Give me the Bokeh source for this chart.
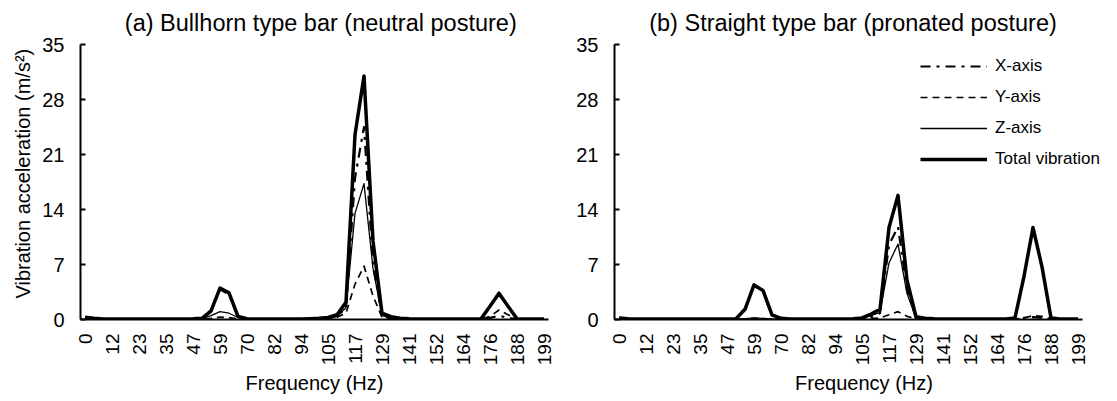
import math
from bokeh.plotting import figure
from bokeh.models import Range1d, FixedTicker, Label, Legend, LegendItem, Title
from bokeh.layouts import row
from bokeh.embed import file_html
from bokeh.resources import INLINE

# Frequency bins (3.906 Hz each); labels shown on every third bin
bins = list(range(52))
tick_bins = [0, 3, 6, 9, 12, 15, 18, 21, 24, 27, 30, 33, 36, 39, 42, 45, 48, 51]
tick_labels = ["0", "12", "23", "35", "47", "59", "70", "82", "94", "105",
               "117", "129", "141", "152", "164", "176", "188", "199"]
y_ticks = [0, 7, 14, 21, 28, 35]

# (a) Bullhorn type bar (neutral posture)
x_a = [0.15, 0.08, 0.03, 0.03, 0.03, 0.03, 0.03, 0.03, 0.03, 0.03,
       0.03, 0.03, 0.05, 0.12, 1.00, 3.85, 3.20, 0.30, 0.06, 0.03,
       0.03, 0.03, 0.03, 0.03, 0.03, 0.06, 0.10, 0.15, 0.40, 1.50,
       18.0, 24.5, 7.00, 0.50, 0.20, 0.08, 0.05, 0.03, 0.03, 0.03,
       0.03, 0.03, 0.03, 0.03, 0.03, 0.20, 0.50, 0.20, 0.05, 0.03,
       0.03, 0.03]
y_a = [0.12, 0.06, 0.03, 0.03, 0.03, 0.03, 0.03, 0.03, 0.03, 0.03,
       0.03, 0.03, 0.03, 0.05, 0.15, 0.30, 0.25, 0.08, 0.03, 0.03,
       0.03, 0.03, 0.03, 0.03, 0.03, 0.03, 0.05, 0.10, 0.30, 0.80,
       4.50, 6.80, 3.00, 0.30, 0.10, 0.05, 0.03, 0.03, 0.03, 0.03,
       0.03, 0.03, 0.03, 0.03, 0.05, 0.40, 1.20, 0.60, 0.05, 0.03,
       0.03, 0.03]
z_a = [0.20, 0.10, 0.04, 0.04, 0.04, 0.04, 0.04, 0.04, 0.04, 0.04,
       0.04, 0.04, 0.05, 0.10, 0.50, 1.00, 0.80, 0.25, 0.05, 0.04,
       0.04, 0.04, 0.04, 0.04, 0.04, 0.06, 0.10, 0.15, 0.40, 1.50,
       13.5, 17.3, 6.50, 0.50, 0.20, 0.08, 0.05, 0.04, 0.04, 0.04,
       0.04, 0.04, 0.04, 0.04, 0.05, 1.60, 3.10, 1.60, 0.08, 0.04,
       0.04, 0.04]
total_a = [0.30, 0.15, 0.05, 0.05, 0.05, 0.05, 0.05, 0.05, 0.05, 0.05,
           0.05, 0.05, 0.08, 0.15, 1.10, 4.00, 3.40, 0.40, 0.10, 0.05,
           0.05, 0.05, 0.05, 0.05, 0.05, 0.10, 0.15, 0.25, 0.60, 2.20,
           23.5, 31.0, 10.0, 0.80, 0.35, 0.15, 0.08, 0.05, 0.05, 0.05,
           0.05, 0.05, 0.05, 0.05, 0.08, 1.70, 3.35, 1.70, 0.10, 0.05,
           0.05, 0.05]

# (b) Straight type bar (pronated posture)
x_b = [0.10, 0.05, 0.03, 0.03, 0.03, 0.03, 0.03, 0.03, 0.03, 0.03,
       0.03, 0.03, 0.03, 0.08, 1.20, 4.30, 3.60, 0.50, 0.10, 0.03,
       0.03, 0.03, 0.03, 0.03, 0.03, 0.03, 0.05, 0.10, 0.30, 0.80,
       9.50, 11.8, 3.80, 0.20, 0.08, 0.05, 0.03, 0.03, 0.03, 0.03,
       0.03, 0.03, 0.03, 0.03, 0.05, 0.20, 0.30, 0.20, 0.05, 0.03,
       0.03, 0.03]
y_b = [0.08, 0.04, 0.03, 0.03, 0.03, 0.03, 0.03, 0.03, 0.03, 0.03,
       0.03, 0.03, 0.03, 0.04, 0.08, 0.15, 0.12, 0.05, 0.03, 0.03,
       0.03, 0.03, 0.03, 0.03, 0.03, 0.03, 0.04, 0.06, 0.10, 0.20,
       0.60, 1.00, 0.40, 0.10, 0.05, 0.03, 0.03, 0.03, 0.03, 0.03,
       0.03, 0.03, 0.03, 0.03, 0.05, 0.20, 0.50, 0.40, 0.05, 0.03,
       0.03, 0.03]
z_b = [0.12, 0.06, 0.04, 0.04, 0.04, 0.04, 0.04, 0.04, 0.04, 0.04,
       0.04, 0.04, 0.04, 0.05, 0.10, 0.20, 0.15, 0.08, 0.04, 0.04,
       0.04, 0.04, 0.04, 0.04, 0.04, 0.04, 0.06, 0.10, 0.50, 0.90,
       7.20, 9.60, 3.30, 0.20, 0.08, 0.05, 0.04, 0.04, 0.04, 0.04,
       0.04, 0.04, 0.04, 0.04, 0.15, 5.40, 11.6, 6.60, 0.15, 0.04,
       0.04, 0.04]
total_b = [0.20, 0.10, 0.05, 0.05, 0.05, 0.05, 0.05, 0.05, 0.05, 0.05,
           0.05, 0.05, 0.05, 0.10, 1.30, 4.40, 3.70, 0.60, 0.15, 0.05,
           0.05, 0.05, 0.05, 0.05, 0.05, 0.05, 0.10, 0.20, 0.70, 1.30,
           11.7, 15.8, 5.00, 0.35, 0.15, 0.08, 0.05, 0.05, 0.05, 0.05,
           0.05, 0.05, 0.05, 0.05, 0.20, 5.50, 11.7, 6.70, 0.20, 0.05,
           0.05, 0.05]

FONT = "Liberation Sans"
PX_X = 9.0          # pixels per frequency bin
PX_Y = 275.0 / 35   # pixels per m/s^2
FRAME_H = 317       # frame reaches up to the page top so titles are not clipped


def make_fig(frame_w, left, right, title, title_x):
    p = figure(frame_width=frame_w, frame_height=FRAME_H,
               x_range=Range1d(-0.5, -0.5 + frame_w / PX_X),
               y_range=Range1d(0, FRAME_H / PX_Y),
               output_backend="svg", toolbar_location=None,
               min_border_left=left, min_border_right=right,
               min_border_top=2, min_border_bottom=81)
    p.outline_line_color = None
    p.grid.visible = False
    p.background_fill_color = "white"
    p.border_fill_color = "white"

    xa = p.xaxis[0]
    xa.bounds = (-0.5, 51.5)
    xa.ticker = FixedTicker(ticks=tick_bins)
    xa.major_label_overrides = {b: lab for b, lab in zip(tick_bins, tick_labels)}
    xa.major_label_orientation = math.pi / 2
    xa.major_tick_line_color = None
    xa.minor_tick_line_color = None
    xa.major_tick_in = 0
    xa.major_tick_out = 0
    xa.major_label_standoff = 14
    xa.major_label_text_font = FONT
    xa.major_label_text_font_size = "19px"
    xa.major_label_text_color = "black"
    xa.axis_line_width = 2
    xa.axis_line_color = "black"
    xa.axis_label = "Frequency (Hz)"
    xa.axis_label_text_font = FONT
    xa.axis_label_text_font_size = "20px"
    xa.axis_label_text_font_style = "normal"
    xa.axis_label_text_color = "black"
    xa.axis_label_standoff = 4

    ya = p.yaxis[0]
    ya.bounds = (0, 35)
    ya.ticker = FixedTicker(ticks=y_ticks)
    ya.major_tick_in = 5
    ya.major_tick_out = 0
    ya.major_tick_line_width = 2
    ya.minor_tick_line_color = None
    ya.major_label_standoff = 16
    ya.major_label_text_font = FONT
    ya.major_label_text_font_size = "20px"
    ya.major_label_text_color = "black"
    ya.axis_line_width = 2
    ya.axis_line_color = "black"

    p.add_layout(Label(x=title_x, y=37.8, text=title, text_align="center",
                       text_baseline="alphabetic", text_font=FONT,
                       text_font_size="23.5px", text_color="black"))
    return p


def draw(p, xs, ys, zs, tot):
    rx = p.line(bins, xs, line_color="black", line_width=2.2,
                line_dash="10 6 3 6", line_join="round")
    ry = p.line(bins, ys, line_color="black", line_width=1.7,
                line_dash="7 5", line_join="round")
    rz = p.line(bins, zs, line_color="black", line_width=1.3, line_join="round")
    rt = p.line(bins, tot, line_color="black", line_width=3.5, line_join="round")
    return rx, ry, rz, rt


p1 = make_fig(468, 80, 12, "(a) Bullhorn type bar (neutral posture)", 26.2)
p1.add_layout(Title(text="Vibration acceleration (m/s²)", align="left",
                    offset=21, standoff=12, vertical_align="bottom",
                    text_font=FONT, text_font_size="20px",
                    text_font_style="normal", text_color="black"), "left")
draw(p1, x_a, y_a, z_a, total_a)

p2 = make_fig(499, 54, 3, "(b) Straight type bar (pronated posture)", 26.0)
rx, ry, rz, rt = draw(p2, x_b, y_b, z_b, total_b)

legend = Legend(items=[LegendItem(label="X-axis", renderers=[rx]),
                       LegendItem(label="Y-axis", renderers=[ry]),
                       LegendItem(label="Z-axis", renderers=[rz]),
                       LegendItem(label="Total vibration", renderers=[rt])],
                location=(306, 150), padding=0, margin=0, spacing=11,
                glyph_width=67, glyph_height=20, label_height=20,
                label_standoff=8, label_text_font=FONT,
                label_text_font_size="17px", label_text_color="black",
                border_line_color=None, background_fill_alpha=0)
p2.add_layout(legend)

layout = row(p1, p2)
open("out.html", "w").write(file_html(layout, INLINE))
